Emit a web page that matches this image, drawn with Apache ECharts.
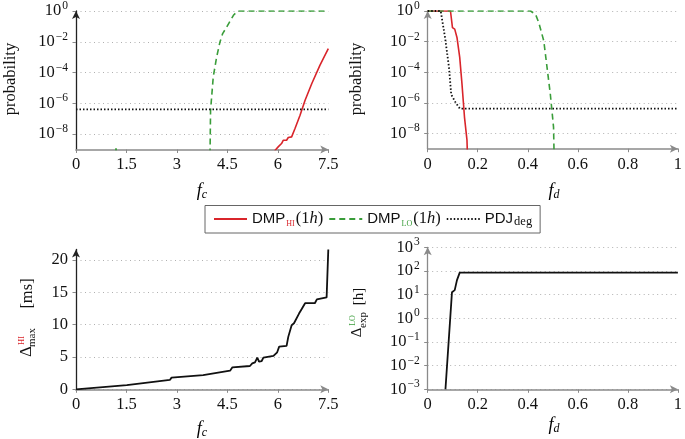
<!DOCTYPE html>
<html><head><meta charset="utf-8">
<script src="https://cdn.jsdelivr.net/npm/echarts@6/dist/echarts.min.js"></script>
<style>html,body{margin:0;padding:0;background:#fff}#c{width:685px;height:439px}</style>
</head><body><div id="c"></div>
<script>
// ---------- data ----------
// Top-left: probability vs f_c  (0 = below the plotted range)
const fcTicks = [0, 1.5, 3, 4.5, 6, 7.5];
const fcHiX = [0, 5.9, 5.92, 6.01, 6.11, 6.16, 6.26, 6.31, 6.41, 6.51, 6.66, 6.81, 7.01, 7.25, 7.5];
const fcHiP = [0, 0, 8.9e-10, 1.48e-9, 2.45e-9, 3.98e-9, 3.98e-9, 6.0e-9, 6.6e-9, 2.3e-8, 1.7e-7, 1.58e-6, 1.95e-5, 2.95e-4, 3.6e-3];
const fcLoX = [0, 1.17, 1.19, 1.21, 3.98, 4.0, 4.08, 4.18, 4.28, 4.36, 4.48, 4.68, 4.78, 4.84, 7.5];
const fcLoP = [0, 0, 1.6e-9, 0, 0, 3.5e-7, 5.2e-5, 1.0e-3, 9.8e-3, 3.4e-2, 9.1e-2, 0.525, 0.87, 1, 1];
const fcDegX = [0, 7.5];
const fcDegP = [4.0e-7, 4.0e-7];
// Top-right: probability vs f_d
const fdHiX = [0, 0.091, 0.099, 0.108, 0.117, 0.128, 0.137, 0.147, 0.157, 0.16, 1];
const fdHiP = [1, 1, 8.3e-2, 6.5e-2, 1.86e-2, 9.3e-4, 1.74e-5, 1.17e-7, 3.6e-9, 0, 0];
const fdLoX = [0, 0.411, 0.431, 0.444, 0.464, 0.477, 0.49, 0.503, 0.506, 1];
const fdLoP = [1, 1, 0.617, 0.174, 1.12e-2, 2.09e-4, 3.89e-6, 2.6e-8, 0, 0];
const fdDegX = [0, 0.052, 0.07, 0.085, 0.094, 0.112, 0.129, 1];
const fdDegP = [1, 1, 1.58e-2, 2.1e-4, 3.5e-6, 1.0e-6, 4.1e-7, 4.1e-7];
// Bottom-left: Delta^HI_max [ms] vs f_c
const dHiX = [0, 1.51, 2.79, 2.84, 3.78, 3.83, 4.58, 4.65, 5.17, 5.24, 5.32, 5.39, 5.44, 5.52, 5.57, 5.87, 5.92, 5.98, 6.04, 6.26, 6.31, 6.41, 6.48, 6.63, 6.71, 6.81, 7.1, 7.16, 7.45, 7.5];
const dHiV = [0, 0.66, 1.44, 1.8, 2.2, 2.47, 2.88, 3.4, 3.6, 4.0, 4.17, 4.9, 4.27, 4.37, 4.9, 5.15, 5.04, 5.72, 6.6, 6.7, 8.1, 9.9, 10.2, 11.7, 12.4, 13.3, 13.3, 13.9, 14.2, 21.6];
// Bottom-right: Delta^LO_exp [h] vs f_d
const dLoX = [0.071, 0.097, 0.108, 0.117, 0.128, 1];
const dLoV = [1e-3, 12.6, 15.5, 41, 85, 85];
// tick values
const probExpTicks = [-8, -6, -4, -2, 0];
const dHiTicks = [0, 5, 10, 15, 20];
const dLoExpTicks = [-3, -2, -1, 0, 1, 2, 3];
const legendNames = ['DMP_HI(1h)', 'DMP_LO(1h)', 'PDJ_deg'];

// ---------- styling ----------
const SERIF = '"Liberation Serif", "Times New Roman", serif';
const SANS = '"Liberation Sans", Arial, sans-serif';
const RED = '#d9252b', GREEN = '#3a9d3a', BLACK = '#111';
const AXG = '#8a8a8a';
const FLOOR = -10;
const toExp = p => (p > 0 ? Math.log10(p) : FLOOR);
const zip = (xs, ys, f) => xs.map((x, i) => [x, f ? f(ys[i]) : ys[i]]);

function expLabel(v) {
  const n = Math.round(v);
  return '{b|10}{e|' + (n < 0 ? '\u2212' + (-n) : String(n)) + '}';
}
const yRich = {
  b: { fontFamily: SERIF, fontSize: 16.5, lineHeight: 22, color: BLACK, verticalAlign: 'middle' },
  e: { fontFamily: SERIF, fontSize: 11.5, lineHeight: 12, color: BLACK, verticalAlign: 'top', padding: [0, 0, 0, 1] }
};

function mkX(grid, max, interval) {
  return {
    type: 'value', gridIndex: grid, min: 0, max: max, interval: interval,
    axisLine: { show: true, onZero: false, lineStyle: { color: AXG, width: 1.7 }, symbol: ['none', 'arrow'], symbolSize: [6, 8] },
    axisTick: { show: true, length: 3.5, lineStyle: { color: AXG, width: 1 } },
    axisLabel: { fontFamily: SERIF, fontSize: 16.5, color: BLACK, margin: 7 },
    splitLine: { show: false }
  };
}
function mkY(grid, min, max, ticks, fmt, lineColor) {
  const lab = { fontFamily: SERIF, fontSize: 16.5, color: BLACK, margin: 8, customValues: ticks };
  if (fmt) { lab.formatter = fmt; lab.rich = yRich; }
  return {
    type: 'value', gridIndex: grid, min: min, max: max,
    axisLine: { show: true, onZero: false, lineStyle: { color: lineColor, width: 1.3 }, symbol: ['none', 'arrow'], symbolSize: [6, 8] },
    axisTick: { show: true, length: 3.5, customValues: ticks, lineStyle: { color: AXG, width: 1 } },
    axisLabel: lab,
    splitLine: { show: true, lineStyle: { color: '#b0b0b0', width: 1, type: [1, 3.5] } }
  };
}
function line(name, xi, data, color, type, width) {
  return {
    name: name, type: 'line', xAxisIndex: xi, yAxisIndex: xi, data: data,
    symbol: 'none', showSymbol: false, clip: true, animation: false,
    lineStyle: { color: color, width: width || 1.6, type: type || 'solid' },
    itemStyle: { color: color }
  };
}

const legendRich = {
  a: { fontFamily: SANS, fontSize: 15, color: BLACK, lineHeight: 18, verticalAlign: 'middle' },
  hi: { fontFamily: SERIF, fontSize: 8, color: RED, lineHeight: 8, verticalAlign: 'bottom', padding: [0, 1, 0, 1] },
  lo: { fontFamily: SERIF, fontSize: 8, color: GREEN, lineHeight: 8, verticalAlign: 'bottom', padding: [0, 1, 0, 1] },
  s: { fontFamily: SERIF, fontSize: 16.5, color: BLACK, lineHeight: 18, verticalAlign: 'middle' },
  i: { fontFamily: SERIF, fontSize: 16.5, fontStyle: 'italic', color: BLACK, lineHeight: 18, verticalAlign: 'middle' },
  sub: { fontFamily: SERIF, fontSize: 12.5, color: BLACK, lineHeight: 10, verticalAlign: 'bottom', padding: [0, 0, 0, 1] }
};
const legendFmt = {
  'DMP_HI(1h)': '{a|DMP}{hi|HI}{s|(1}{i|h}{s|)}',
  'DMP_LO(1h)': '{a|DMP}{lo|LO}{s|(1}{i|h}{s|)}',
  'PDJ_deg': '{a|PDJ}{sub|deg}'
};

const titleRich = {
  f: { fontFamily: SERIF, fontSize: 18, fontStyle: 'italic', color: BLACK, lineHeight: 20, verticalAlign: 'middle' },
  s: { fontFamily: SERIF, fontSize: 12, fontStyle: 'italic', color: BLACK, lineHeight: 10, verticalAlign: 'bottom' }
};
function xTitle(x, y, sub) {
  return { type: 'text', x: x, y: y, style: { text: '{f|f}{s|' + sub + '}', rich: titleRich, align: 'center', verticalAlign: 'middle', textAlign: 'center', textVerticalAlign: 'middle' } };
}
function rotText(x, y, text, size, color) {
  return { type: 'text', x: x, y: y, style: { text: text, fontFamily: SERIF, fontSize: size, fill: color || BLACK, align: 'center', verticalAlign: 'middle', textAlign: 'center', textVerticalAlign: 'middle' } };
}

const option = {
  animation: false,
  backgroundColor: '#fff',
  grid: [
    { left: 76, top: 10.7, width: 252.3, height: 138.8 },
    { left: 427.7, top: 10, width: 253, height: 138.7 },
    { left: 76, top: 249.5, width: 252.3, height: 139.8 },
    { left: 427.7, top: 247.3, width: 252.3, height: 142 }
  ],
  xAxis: [mkX(0, 7.5, 1.5), mkX(1, 1, 0.2), mkX(2, 7.5, 1.5), mkX(3, 1, 0.2)],
  yAxis: [
    mkY(0, -9, 0, probExpTicks, expLabel, '#222'),
    mkY(1, -9, 0, probExpTicks, expLabel, AXG),
    mkY(2, 0, 21.6, dHiTicks, null, '#222'),
    mkY(3, -3, 3, dLoExpTicks, expLabel, AXG)
  ],
  legend: {
    data: legendNames, left: 205, top: 205.5, orient: 'horizontal',
    padding: [5, 8, 5, 8], itemGap: 5, itemWidth: 33, itemHeight: 14,
    borderColor: '#666', borderWidth: 1, borderRadius: 0, backgroundColor: '#fff',
    itemStyle: { opacity: 0, borderWidth: 0 },
    formatter: n => legendFmt[n] || n,
    textStyle: { rich: legendRich }
  },
  series: [
    line('DMP_HI(1h)', 0, zip(fcHiX, fcHiP, toExp), RED),
    line('DMP_LO(1h)', 0, zip(fcLoX, fcLoP, toExp), GREEN, [6, 4]),
    line('PDJ_deg', 0, zip(fcDegX, fcDegP, toExp), BLACK, [1.5, 2], 1.8),
    line('DMP_HI(1h)', 1, zip(fdHiX, fdHiP, toExp), RED),
    line('DMP_LO(1h)', 1, zip(fdLoX, fdLoP, toExp), GREEN, [6, 4]),
    line('PDJ_deg', 1, zip(fdDegX, fdDegP, toExp), BLACK, [1.5, 2], 1.8),
    line('dHi', 2, zip(dHiX, dHiV), BLACK, 'solid', 1.8),
    line('dLo', 3, zip(dLoX, dLoV, toExp), BLACK, 'solid', 1.8)
  ],
  graphic: [
    xTitle(202, 191, 'c'),
    xTitle(554, 191, 'd'),
    xTitle(202, 429, 'c'),
    xTitle(554, 425, 'd'),
    Object.assign(rotText(11, 79, 'probability', 16.5), { rotation: Math.PI / 2 }),
    Object.assign(rotText(356.5, 79, 'probability', 16.5), { rotation: Math.PI / 2 }),
    { type: 'group', x: 32, y: 358, rotation: Math.PI / 2, children: [
      rotText(6.5, -5.5, '\u0394', 17),
      rotText(17.5, -10.5, 'HI', 8.5, RED),
      rotText(20.5, 0.5, 'max', 11),
      rotText(64.5, -4, '[ms]', 16.5)
    ]},
    { type: 'group', x: 362, y: 338, rotation: Math.PI / 2, children: [
      rotText(5.5, -5, '\u0394', 15),
      rotText(17.5, -9.5, 'LO', 8, GREEN),
      rotText(18, 1, 'exp', 11),
      rotText(41.5, -3, '[h]', 15)
    ]}
  ]
};
const chart = echarts.init(document.getElementById('c'), null, { renderer: 'canvas' });
chart.setOption(option);
</script></body></html>
